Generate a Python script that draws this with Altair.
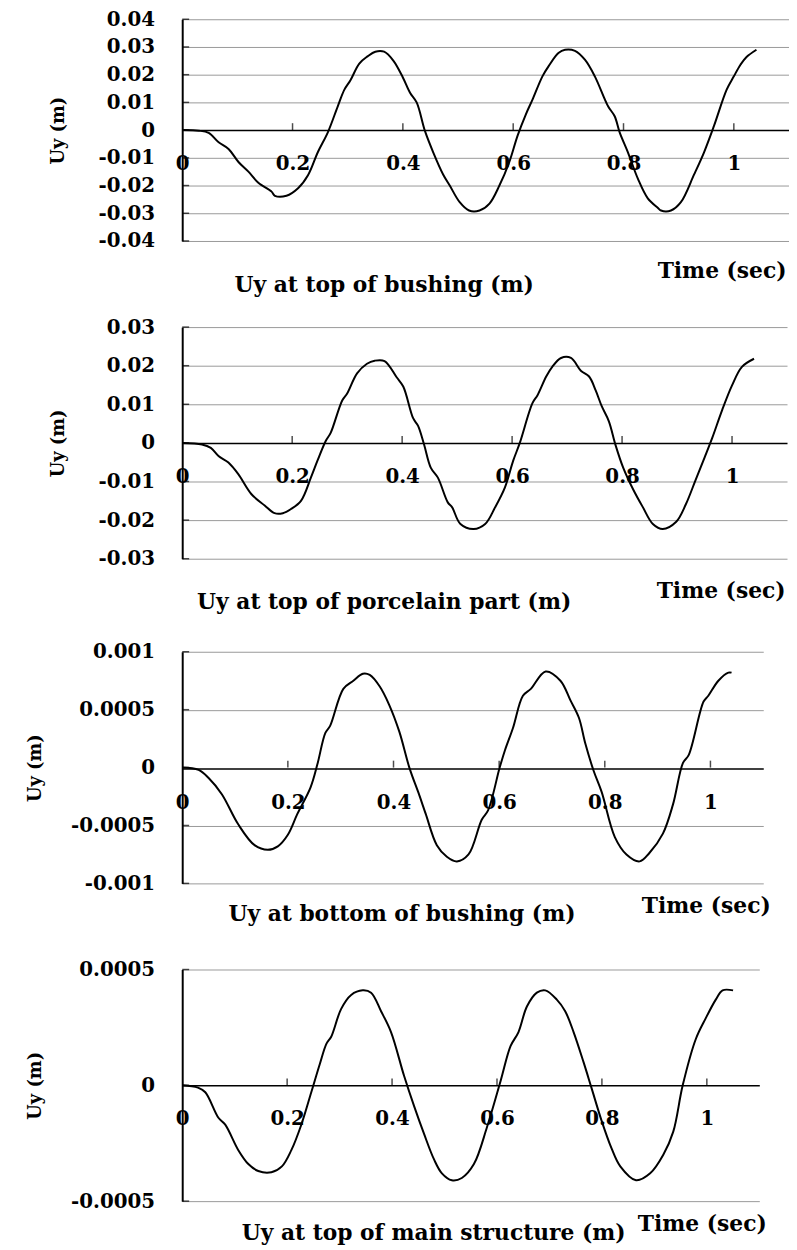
import altair as alt
import pandas as pd

FONT = "DejaVu Serif"

X_TICKS = [0, 0.2, 0.4, 0.6, 0.8, 1]
X_DOMAIN = [0, 1.1]
X_TITLE = "Time (sec)"
Y_TITLE = "Uy (m)"

# ---- Panel 1: top of bushing ----
P1_T = [0, 0.03, 0.048, 0.066, 0.084, 0.102, 0.12, 0.138, 0.162, 0.168, 0.189, 0.21, 0.228,
        0.246, 0.264, 0.282, 0.294, 0.305, 0.321, 0.336, 0.35, 0.366, 0.383, 0.4, 0.413, 0.425,
        0.44, 0.455, 0.473, 0.485, 0.503, 0.52, 0.539, 0.557, 0.575, 0.593, 0.608, 0.623, 0.635,
        0.653, 0.664, 0.682, 0.694, 0.712, 0.73, 0.748, 0.772, 0.784, 0.793, 0.808, 0.826, 0.844,
        0.862, 0.868, 0.886, 0.904, 0.928, 0.946, 0.964, 0.987, 1.0, 1.012, 1.023, 1.041]
P1_V = [0, -0.0002, -0.001, -0.0044, -0.0068, -0.0115, -0.015, -0.019, -0.0222, -0.0237, -0.0237,
        -0.021, -0.0163, -0.0079, -0.0008, 0.0086, 0.0146, 0.018, 0.024, 0.0266, 0.0283, 0.0283,
        0.025, 0.019, 0.0135, 0.01, -0.0003, -0.008, -0.016, -0.02, -0.026, -0.029, -0.029,
        -0.0265, -0.02, -0.0115, -0.002, 0.0057, 0.011, 0.0194, 0.023, 0.0278, 0.029, 0.0286,
        0.0254, 0.0194, 0.0086, 0.005, -0.0008, -0.008, -0.0175, -0.0246, -0.028, -0.029, -0.029,
        -0.026, -0.016, -0.008, 0.0015, 0.0146, 0.0194, 0.0236, 0.0264, 0.029]
P1_YTICKS = [-0.04, -0.03, -0.02, -0.01, 0, 0.01, 0.02, 0.03, 0.04]
P1_TITLE = "Uy at top of bushing (m)"

# ---- Panel 2: top of porcelain part ----
P2_T = [0, 0.036, 0.052, 0.066, 0.084, 0.102, 0.126, 0.15, 0.168, 0.183, 0.198, 0.216, 0.234,
        0.246, 0.261, 0.27, 0.291, 0.3, 0.318, 0.336, 0.35, 0.368, 0.39, 0.402, 0.42, 0.429,
        0.44, 0.452, 0.465, 0.483, 0.491, 0.506, 0.53, 0.551, 0.569, 0.587, 0.602, 0.614, 0.637,
        0.646, 0.662, 0.673, 0.689, 0.707, 0.725, 0.74, 0.752, 0.763, 0.776, 0.788, 0.802, 0.82,
        0.838, 0.856, 0.874, 0.898, 0.916, 0.934, 0.95, 0.964, 0.982, 1.0, 1.018, 1.04]
P2_V = [0, -0.0004, -0.0013, -0.0034, -0.0051, -0.0081, -0.0133, -0.0162, -0.0182, -0.0182,
        -0.0171, -0.015, -0.009, -0.0046, 0.0005, 0.0026, 0.011, 0.0128, 0.018, 0.0205, 0.0213,
        0.0212, 0.017, 0.0146, 0.0064, 0.0044, -0.0005, -0.0064, -0.009, -0.0154, -0.0167,
        -0.021, -0.0223, -0.021, -0.0167, -0.0115, -0.0046, 0, 0.0103, 0.0123, 0.0172, 0.0197,
        0.022, 0.022, 0.0187, 0.0172, 0.0136, 0.0095, 0.0056, -0.0005, -0.0064, -0.012, -0.0167,
        -0.021, -0.0223, -0.0205, -0.0159, -0.0095, -0.0038, 0.0013, 0.0085, 0.0149, 0.0197,
        0.0218]
P2_YTICKS = [-0.03, -0.02, -0.01, 0, 0.01, 0.02, 0.03]
P2_TITLE = "Uy at top of porcelain part (m)"

# ---- Panel 3: bottom of bushing ----
P3_T = [0, 0.031, 0.05, 0.075, 0.106, 0.137, 0.162, 0.181, 0.2, 0.218, 0.243, 0.256, 0.271,
        0.28, 0.305, 0.324, 0.342, 0.355, 0.374, 0.392, 0.411, 0.43, 0.449, 0.461, 0.482, 0.501,
        0.52, 0.542, 0.567, 0.579, 0.601, 0.611, 0.626, 0.645, 0.66, 0.688, 0.716, 0.735, 0.751,
        0.763, 0.779, 0.794, 0.819, 0.841, 0.866, 0.884, 0.91, 0.929, 0.948, 0.959, 0.987, 0.996,
        1.015, 1.034, 1.04]
P3_V = [0, -0.00002, -0.00009, -0.00023, -0.00049, -0.00067, -0.00071, -0.00068, -0.00058,
        -0.0004, -0.00017, 0.00003, 0.0003, 0.00036, 0.00068, 0.00075, 0.00081, 0.0008, 0.0007,
        0.00054, 0.00031, 0, -0.00024, -0.0004, -0.00067, -0.00077, -0.00081, -0.00075,
        -0.00045, -0.00037, 0, 0.00015, 0.00034, 0.00062, 0.00068, 0.00083, 0.00075, 0.00058,
        0.00043, 0.00021, -0.00003, -0.00021, -0.0006, -0.00075, -0.00081, -0.00074, -0.00057,
        -0.00032, 0.00004, 0.00011, 0.00057, 0.00062, 0.00075, 0.00082, 0.00082]
P3_YTICKS = [-0.001, -0.0005, 0, 0.0005, 0.001]
P3_TITLE = "Uy at bottom of bushing (m)"

# ---- Panel 4: top of main structure ----
P4_T = [0, 0.03, 0.044, 0.069, 0.082, 0.107, 0.126, 0.145, 0.17, 0.19, 0.208, 0.227, 0.246,
        0.262, 0.275, 0.284, 0.303, 0.322, 0.344, 0.36, 0.379, 0.398, 0.423, 0.442, 0.461, 0.48,
        0.495, 0.514, 0.533, 0.556, 0.581, 0.607, 0.626, 0.641, 0.657, 0.676, 0.692, 0.714, 0.73,
        0.746, 0.765, 0.78, 0.799, 0.818, 0.835, 0.865, 0.892, 0.917, 0.936, 0.954, 0.979, 0.998,
        1.017, 1.03, 1.05]
P4_V = [0, -0.00001, -0.00003, -0.00014, -0.00017, -0.00028, -0.00034, -0.00037, -0.000375,
        -0.00035, -0.00028, -0.00017, -0.00003, 0.00009, 0.00018, 0.00021, 0.00033, 0.00039,
        0.00041, 0.0004, 0.00032, 0.00023, 0.00004, -0.00009, -0.00021, -0.00032, -0.00038,
        -0.00041, -0.0004, -0.00034, -0.00018, 0.00002, 0.00017, 0.00023, 0.00034, 0.0004,
        0.00041, 0.00037, 0.00032, 0.00023, 0.0001, -0.00001, -0.00015, -0.00027, -0.00035,
        -0.00041, -0.00038, -0.0003, -0.0002, 0, 0.0002, 0.00029, 0.00037, 0.00041, 0.00041]
P4_YTICKS = [-0.0005, 0, 0.0005]
P4_TITLE = "Uy at top of main structure (m)"


def panel(t, v, yticks, title, width, height, zero_from_top, title_cx, title_offset,
          time_x, time_y, ytitle_x, extra):
    xaxis = alt.Axis(values=X_TICKS, labelExpr="'' + datum.value", offset=-(height - zero_from_top),
                     ticks=False, grid=False, domainColor="black", domainWidth=1.5,
                     labelPadding=34, labelBaseline="middle", labelFlush=False, labelOverlap=False,
                     title=X_TITLE, titleX=time_x, titleY=time_y, titleAlign="right",
                     titleBaseline="middle")
    yaxis = alt.Axis(values=yticks, labelExpr="'' + datum.value", ticks=False,
                     domainColor="black", domainWidth=2, labelPadding=28, labelOverlap=False,
                     grid=True, gridColor="#999999", gridWidth=1,
                     gridOpacity={"condition": {"test": "datum.value === 0", "value": 0}, "value": 1},
                     title=Y_TITLE, titleX=ytitle_x, titleY=height / 2, titleBaseline="middle",
                     titleAngle=270)
    x = alt.X("t:Q", scale=alt.Scale(domain=X_DOMAIN, nice=False, zero=False), axis=xaxis)
    y = alt.Y("v:Q", scale=alt.Scale(domain=[yticks[0], yticks[-1]], nice=False), axis=yaxis)

    line = alt.Chart(pd.DataFrame({"t": t, "v": v})).mark_line(
        color="black", strokeWidth=2, interpolate="catmull-rom").encode(x=x, y=y)
    yt = alt.Chart(pd.DataFrame({"t": [0] * len(yticks), "v": yticks})).mark_tick(
        orient="horizontal", color="black", size=7, thickness=1.5, xOffset=3.5).encode(x=x, y=y)
    xt = alt.Chart(pd.DataFrame({"t": X_TICKS[1:], "v": [0] * (len(X_TICKS) - 1)})).mark_tick(
        orient="vertical", color="black", size=7, thickness=1.5, yOffset=-3.5).encode(x=x, y=y)

    tp = dict(text=title, orient="bottom", anchor="start", align="center", frame="group",
              dx=title_cx, offset=title_offset, font=FONT, fontSize=22, fontWeight="bold",
              color="black")
    if extra > 0:
        tp.update(subtitle=" ", subtitleFontSize=2, subtitlePadding=extra)
    return alt.layer(line, yt, xt).properties(width=width, height=height,
                                               title=alt.TitleParams(**tp))


p1 = panel(P1_T, P1_V, P1_YTICKS, P1_TITLE, 613, 224, 112, 204, -6, 610, 142, -125, 0)
p2 = panel(P2_T, P2_V, P2_YTICKS, P2_TITLE, 611, 234, 117, 204, -9, 609, 149, -125, 5)
p3 = panel(P3_T, P3_V, P3_YTICKS, P3_TITLE, 587, 234, 118, 222, -12, 594, 138, -148, 11)
p4 = panel(P4_T, P4_V, P4_YTICKS, P4_TITLE, 583, 234, 117, 254, -12, 590, 140, -148, 0)

chart = alt.vconcat(p1, p2, p3, p4, spacing=21).properties(
    padding={"left": 19, "top": -5, "right": 0, "bottom": 0},
    background="white",
).configure_view(stroke=None).configure_axis(
    labelFont=FONT, labelFontSize=20, labelFontWeight="bold", labelColor="black",
    titleFont=FONT, titleFontSize=22, titleFontWeight="bold", titleColor="black"
).configure_axisY(titleFontSize=18)

chart.save("out.html", embed_options={"renderer": "svg", "actions": False})
